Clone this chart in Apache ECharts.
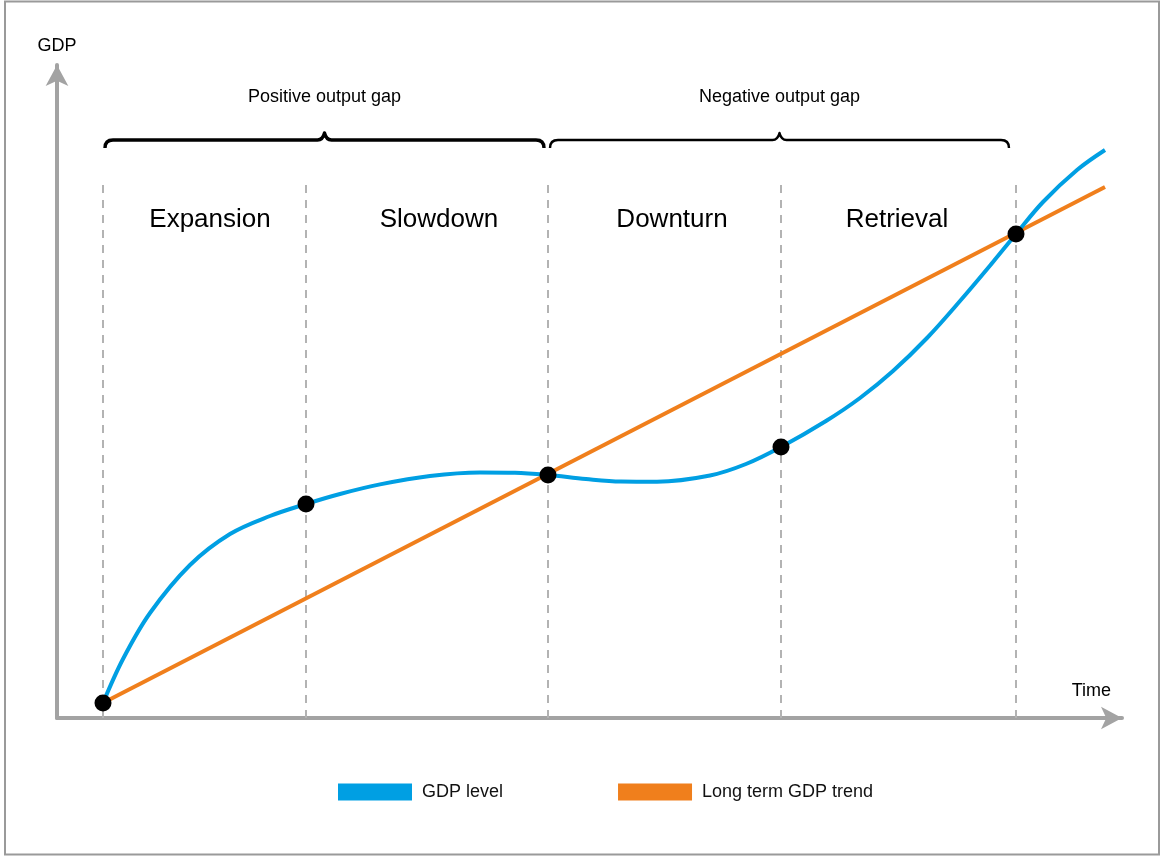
<!DOCTYPE html>
<html>
<head>
<meta charset="utf-8">
<title>Business cycle</title>
<script src="https://cdn.jsdelivr.net/npm/echarts@6/dist/echarts.min.js"></script>
<style>
  html, body { margin: 0; padding: 0; background: #ffffff; }
  #chart { width: 1162px; height: 856px; }
</style>
</head>
<body>
<div id="chart"></div>
<script>
// ---- data ----
const phaseNames = ['Expansion', 'Slowdown', 'Downturn', 'Retrieval'];
const phaseBounds = [46, 249, 491, 724, 959];          // time of each turning point
const gapNames = ['Positive output gap', 'Negative output gap'];
const gapSpans = [[48, 487], [493, 952]];               // time span covered by each gap

const gdpTime  = [46, 66, 93, 133, 173, 213, 249, 283, 323, 373, 423, 458, 491, 529, 564, 600, 653, 689, 724, 769, 803, 836, 870, 903, 936, 959, 986, 1020, 1048];
const gdpLevel = [15, 59, 105, 153, 184, 202, 214, 224, 233.6, 242, 245.5, 245.2, 243, 239, 236.5, 236.3, 242.5, 254, 271, 297, 320, 347, 380, 417, 456, 484, 516, 548, 568];

const trendTime  = [40, 1048];
const trendLevel = [12, 531];

const turnLevel = [15, 214, 243, 271, 484];              // GDP level at each turning point

// ---- layout (axis units) ----
const phaseLabelX = [153, 382, 615, 840];
const phaseLabelY = 498;
const braceLevel = 578;
const dashTop = 535;

// ---- styles ----
const FONT = '"Liberation Sans", Arial, Helvetica, sans-serif';
const BLUE = '#009fe3';
const ORANGE = '#f07f1c';
const AXIS_GREY = '#a3a3a3';
const braceWidths = [3.4, 2.4];

const chart = echarts.init(document.getElementById('chart'), null, { renderer: 'canvas' });

const gdpData = gdpTime.map((t, i) => [t, gdpLevel[i]]);
const trendData = trendTime.map((t, i) => [t, trendLevel[i]]);
const turnData = phaseBounds.map((t, i) => [t, turnLevel[i]]);
const phaseLabelData = phaseNames.map((n, i) => ({ name: n, value: [phaseLabelX[i], phaseLabelY] }));
const braceData = gapSpans.map((s, i) => ({ name: gapNames[i], value: [s[0], s[1], braceLevel, i] }));
const dashData = phaseBounds.map(t => [{ coord: [t, 0] }, { coord: [t, dashTop] }]);

// curly brace over a time span, with its caption above the tip
function renderBrace(params, api) {
  const a = api.coord([api.value(0), api.value(2)]);
  const b = api.coord([api.value(1), api.value(2)]);
  const x1 = a[0], x2 = b[0], y = a[1];
  const xm = (x1 + x2) / 2;
  const h = 8;
  const d = [
    'M', x1, y + h,
    'Q', x1, y, x1 + 8, y,
    'L', xm - 7, y,
    'C', xm - 3, y, xm - 1, y - 3, xm, y - 7,
    'C', xm + 1, y - 3, xm + 3, y, xm + 7, y,
    'L', x2 - 8, y,
    'Q', x2, y, x2, y + h
  ].join(' ');
  const idx = api.value(3);
  return {
    type: 'group',
    children: [
      {
        type: 'path',
        shape: { pathData: d },
        style: { fill: null, stroke: '#000000', lineWidth: braceWidths[idx], lineJoin: 'round' }
      },
      {
        type: 'text',
        x: xm,
        y: y - 43,
        style: {
          text: gapNames[idx],
          fontSize: 18,
          fontFamily: FONT,
          fill: '#000000',
          align: 'center',
          verticalAlign: 'middle'
        }
      }
    ]
  };
}

const option = {
  animation: false,
  backgroundColor: '#ffffff',
  graphic: [
    {
      type: 'rect',
      shape: { x: 5, y: 1.5, width: 1154, height: 853 },
      style: { fill: null, stroke: '#9a9a9a', lineWidth: 2 },
      z: 100
    }
  ],
  grid: { left: 57, right: 40, top: 65, bottom: 138 },
  legend: {
    left: 333,
    top: 778,
    itemWidth: 74,
    itemHeight: 17,
    itemGap: 115,
    icon: 'rect',
    data: ['GDP level', 'Long term GDP trend'],
    textStyle: { fontSize: 18, fontFamily: FONT, color: '#111111', padding: [0, 0, 0, 5] }
  },
  xAxis: {
    type: 'value',
    min: 0,
    max: 1065,
    name: 'Time',
    nameLocation: 'end',
    nameGap: -11,
    nameTextStyle: {
      fontSize: 18, fontFamily: FONT, color: '#000000',
      align: 'right', verticalAlign: 'bottom', padding: [0, 0, 18, 0]
    },
    axisLine: {
      show: true,
      symbol: ['none', 'arrow'],
      symbolSize: [17, 21],
      lineStyle: { color: AXIS_GREY, width: 4 }
    },
    axisTick: { show: false },
    axisLabel: { show: false },
    splitLine: { show: false }
  },
  yAxis: {
    type: 'value',
    min: 0,
    max: 653,
    name: 'GDP',
    nameLocation: 'end',
    nameGap: 10,
    nameTextStyle: { fontSize: 18, fontFamily: FONT, color: '#000000', align: 'center' },
    axisLine: {
      show: true,
      symbol: ['none', 'arrow'],
      symbolSize: [17, 21],
      lineStyle: { color: AXIS_GREY, width: 4 }
    },
    axisTick: { show: false },
    axisLabel: { show: false },
    splitLine: { show: false }
  },
  series: [
    {
      name: 'Long term GDP trend',
      type: 'line',
      data: trendData,
      showSymbol: false,
      lineStyle: { color: ORANGE, width: 4 },
      itemStyle: { color: ORANGE },
      z: 3,
      markLine: {
        silent: true,
        symbol: ['none', 'none'],
        label: { show: false },
        lineStyle: { color: '#b3b3b3', width: 2, type: [8, 7] },
        data: dashData,
        z: 1
      }
    },
    {
      name: 'GDP level',
      type: 'line',
      data: gdpData,
      smooth: 0.35,
      showSymbol: false,
      lineStyle: { color: BLUE, width: 4 },
      itemStyle: { color: BLUE },
      z: 4
    },
    {
      name: 'turning points',
      type: 'scatter',
      data: turnData,
      symbol: 'circle',
      symbolSize: 17,
      itemStyle: { color: '#000000', opacity: 1 },
      z: 6
    },
    {
      name: 'phases',
      type: 'scatter',
      data: phaseLabelData,
      symbolSize: 0,
      itemStyle: { opacity: 1 },
      label: {
        show: true,
        position: 'inside',
        formatter: '{b}',
        fontSize: 26,
        fontFamily: FONT,
        color: '#000000'
      },
      z: 5
    },
    {
      name: 'gaps',
      type: 'custom',
      renderItem: renderBrace,
      data: braceData,
      z: 5
    }
  ]
};

chart.setOption(option);
</script>
</body>
</html>
